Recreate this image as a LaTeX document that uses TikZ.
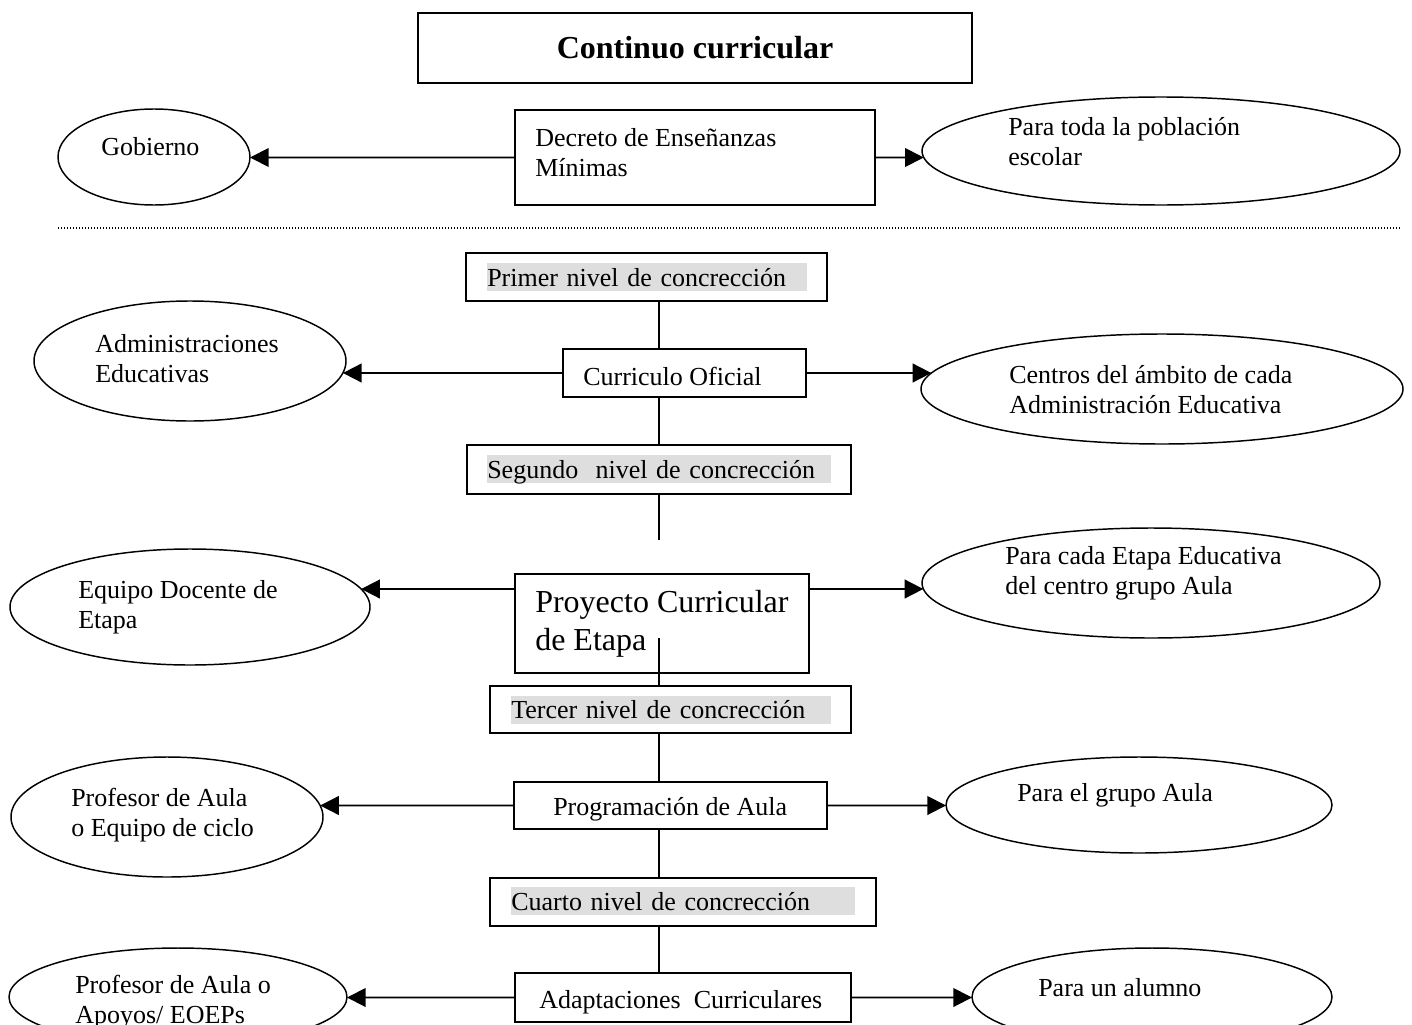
\documentclass[tikz,border=0pt]{standalone}
\usepackage{fontspec}
\setmainfont{Liberation Serif}
\usetikzlibrary{arrows.meta,intersections,shapes.geometric}
\definecolor{hl}{RGB}{222,222,222}
\begin{document}
\begin{tikzpicture}[x=0.75pt,y=-0.75pt,
  box/.style={draw, line width=1.4pt, rectangle, inner sep=0pt},
  ell/.style={draw, line width=1.1pt, ellipse, inner sep=0pt},
  txt/.style={anchor=west, inner sep=0pt, align=left, font=\fontsize{19.5pt}{22.5pt}\selectfont},
  bigtxt/.style={anchor=west, inner sep=0pt, align=left, font=\fontsize{24pt}{28.5pt}\selectfont},
  lvl/.style={anchor=west, inner sep=0pt, fill=hl, align=left, text height=17.5pt, text depth=3.5pt, font=\fontsize{19.5pt}{22.5pt}\selectfont},
  conn/.style={line width=1.4pt},
  arr/.style={line width=1.4pt, -{Triangle[length=14pt,width=14pt]}},
  dotline/.style={line width=0.9pt, dash pattern=on 0.75pt off 1.5pt}
]
\useasboundingbox (0,0) rectangle (1412,1024);

% ---------- top part ----------
\node[box, minimum width=415.5pt, minimum height=52.5pt, font=\bfseries\fontsize{24pt}{28pt}\selectfont] (title) at (695,48) {Continuo curricular};

\node[box, minimum width=270pt, minimum height=71.25pt] (dec) at (695,157.5) {};
\node[txt] (dect) at (535,153) {Decreto de Enseñanzas\\Mínimas};

\node[ell, minimum width=144pt, minimum height=72pt, name path=gobp] (gob) at (154,157) {};
\node[txt] (gobt) at (101,147) {Gobierno};

\node[ell, minimum width=358.5pt, minimum height=81pt, name path=todop] (todo) at (1161,151) {};
\node[txt] (todot) at (1008,142) {Para toda la población\\escolar};

\coordinate (dl1) at (58,228);
\coordinate (dl2) at (1400,228);
\draw[dotline] (dl1) -- (dl2);

% ---------- level boxes ----------
\node[box, minimum width=270.75pt, minimum height=36pt] (n1) at (646.5,277) {};
\node[lvl, text width=240pt] (n1t) at (487,277) {Primer nivel de concrección};

\node[box, minimum width=182.25pt, minimum height=36pt] (cur) at (684.5,373) {};
\node[txt] (curt) at (583,376) {Curriculo Oficial};

\node[box, minimum width=288pt, minimum height=36.75pt] (n2) at (659,469.5) {};
\node[lvl, text width=258pt] (n2t) at (487,469) {Segundo\ \ nivel de concrección};

\node[box, minimum width=220.5pt, minimum height=74.25pt] (pcd) at (662,623.5) {};
\node[bigtxt] (pcdt) at (535,624) {Proyecto Curricular\\de Etapa};

\node[box, minimum width=270.75pt, minimum height=35.25pt] (n3) at (670.5,709.5) {};
\node[lvl, text width=240pt] (n3t) at (511,709.5) {Tercer nivel de concrección};

\node[box, minimum width=234.75pt, minimum height=35.25pt] (prog) at (670.5,805.5) {};
\node[txt] (progt) at (553,809) {Programación de Aula};

\node[box, minimum width=289.5pt, minimum height=36pt] (n4) at (683,902) {};
\node[lvl, text width=258pt] (n4t) at (511,901) {Cuarto nivel de concrección};

\node[box, minimum width=252pt, minimum height=36.75pt] (ada) at (683,997.5) {};
\node[txt] (adat) at (539,1002) {Adaptaciones\ \ Curriculares};

% ---------- ellipses ----------
\node[ell, minimum width=234pt, minimum height=90pt, name path=admp] (adm) at (190,361) {};
\node[txt] (admt) at (95,358.5) {Administraciones\\Educativas};

\node[ell, minimum width=361.5pt, minimum height=82.5pt, name path=cenp] (cen) at (1162,389) {};
\node[txt] (cent) at (1009,390) {Centros del ámbito de cada\\Administración Educativa};

\node[ell, minimum width=270pt, minimum height=87pt, name path=equp] (equ) at (190,607) {};
\node[txt] (equt) at (78,607.5) {Equipo Docente de\\Etapa};

\node[ell, minimum width=343.5pt, minimum height=82.5pt, name path=cadap] (cada) at (1151,583) {};
\node[txt] (cadat) at (1005,573.5) {Para cada Etapa Educativa\\del centro grupo Aula};

\node[ell, minimum width=234pt, minimum height=90pt, name path=profp] (prof) at (167,817) {};
\node[txt] (proft) at (71,815) {Profesor de Aula\\o Equipo de ciclo};

\node[ell, minimum width=289.5pt, minimum height=72pt, name path=grupop] (grupo) at (1139,805) {};
\node[txt] (grupot) at (1017,795) {Para el grupo Aula};

\node[ell, minimum width=253.5pt, minimum height=73.5pt, name path=prof2p] (prof2) at (178,997) {};
\node[txt] (prof2t) at (75,1002.5) {Profesor de Aula o\\Apoyos/ EOEPs};

\node[ell, minimum width=270pt, minimum height=73.5pt, name path=alump] (alum) at (1152,997) {};
\node[txt] (alumt) at (1038,988) {Para un alumno};

% ---------- spine ----------
\coordinate (sp) at (659,0);
\coordinate (s2) at (659,540);
\coordinate (s3) at (659,638);
\draw[conn] (n1.south -| sp) -- (cur.north -| sp);
\draw[conn] (cur.south -| sp) -- (n2.north -| sp);
\draw[conn] (n2.south -| sp) -- (s2);
\draw[conn] (s3) -- (n3.north -| sp);
\draw[conn] (n3.south -| sp) -- (prog.north -| sp);
\draw[conn] (prog.south -| sp) -- (n4.north -| sp);
\draw[conn] (n4.south -| sp) -- (ada.north -| sp);

% ---------- horizontal arrows ----------
\path[name path=h1] (dec.west) -- ++(-300,0);
\draw[arr, name intersections={of=h1 and gobp}] (dec.west) -- (intersection-1);
\path[name path=h2] (dec.east) -- ++(150,0);
\draw[arr, name intersections={of=h2 and todop}] (dec.east) -- (intersection-1);

\path[name path=h3] (cur.west) -- ++(-300,0);
\draw[arr, name intersections={of=h3 and admp}] (cur.west) -- (intersection-1);
\path[name path=h4] (cur.east) -- ++(300,0);
\draw[arr, name intersections={of=h4 and cenp}] (cur.east) -- (intersection-1);

\coordinate (pl) at (pcd.west |- 0,589);
\coordinate (pr) at (pcd.east |- 0,589);
\path[name path=h5] (pl) -- ++(-300,0);
\draw[arr, name intersections={of=h5 and equp}] (pl) -- (intersection-1);
\path[name path=h6] (pr) -- ++(300,0);
\draw[arr, name intersections={of=h6 and cadap}] (pr) -- (intersection-1);

\path[name path=h7] (prog.west) -- ++(-300,0);
\draw[arr, name intersections={of=h7 and profp}] (prog.west) -- (intersection-1);
\path[name path=h8] (prog.east) -- ++(300,0);
\draw[arr, name intersections={of=h8 and grupop}] (prog.east) -- (intersection-1);

\path[name path=h9] (ada.west) -- ++(-300,0);
\draw[arr, name intersections={of=h9 and prof2p}] (ada.west) -- (intersection-1);
\path[name path=h10] (ada.east) -- ++(300,0);
\draw[arr, name intersections={of=h10 and alump}] (ada.east) -- (intersection-1);
\end{tikzpicture}
\end{document}
